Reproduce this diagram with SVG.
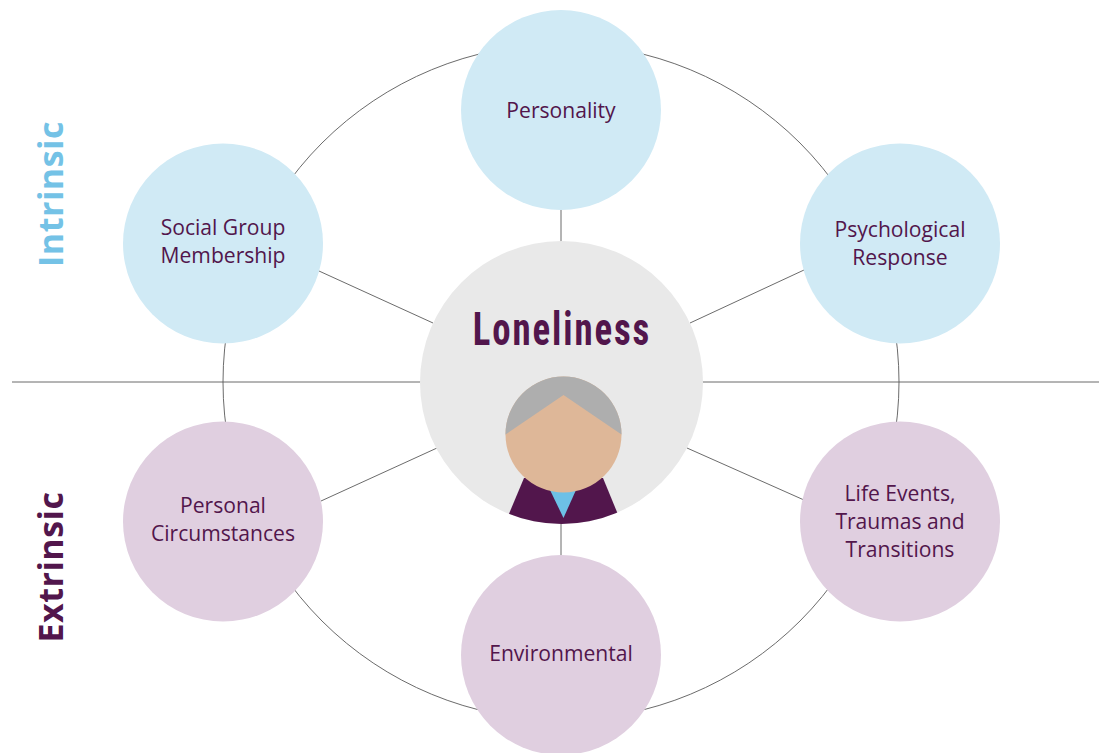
<svg xmlns="http://www.w3.org/2000/svg" width="1099" height="753" viewBox="0 0 1099 753">
<style>
.c{fill:none;stroke:#5a5a5a;stroke-width:.9}
.i{fill:#d0eaf5}.e{fill:#e0cfe0}
.t{font-family:"Open Sans","Noto Sans",sans-serif;font-size:21.1px;fill:#52164c;text-anchor:middle}
.s{font-family:"Open Sans","Noto Sans",sans-serif;font-size:34px;font-weight:700;letter-spacing:.5px;text-anchor:middle}
</style>
<defs><clipPath id="bc"><circle cx="561.500" cy="382.500" r="141.500"/></clipPath></defs>
<rect width="1099" height="753" fill="#fff"/>
<g id="connectors">
<circle class="c" cx="561" cy="382" r="338"/>
<path class="c" d="M12 382H1099M561 100V660M319 271L433 323M321 501L437 448M690 323L804 270M687 448L804 500"/>
</g>
<g id="center">
<circle cx="561.500" cy="382.500" r="141.500" fill="#e9e9e9"/>
<text transform="translate(562 345) scale(.8 1)" text-anchor="middle" style="font-family:'Roboto Condensed',Roboto,sans-serif;font-size:46px;font-weight:700;letter-spacing:2.400px" fill="#52164c">Loneliness</text>
<path d="M524 478L603 478L628.500 540H498Z" fill="#52164c" clip-path="url(#bc)"/>
<path d="M550 490H576L563.500 518Z" fill="#6dc0e6"/>
<circle cx="563.500" cy="434.500" r="58" fill="#deb798"/>
<path d="M505.500 434.500A58 58 0 0 1 621.500 434.500L563.500 395Z" fill="#aeaeae"/>
</g>
<g id="personality"><circle class="i" cx="561" cy="110" r="100"/><text class="t" x="561" y="118">Personality</text></g>
<g id="social"><circle class="i" cx="223" cy="243.500" r="100"/><text class="t" x="223" y="235">Social Group</text><text class="t" x="223" y="263">Membership</text></g>
<g id="psychological"><circle class="i" cx="900" cy="243.500" r="100"/><text class="t" x="900" y="237">Psychological</text><text class="t" x="900" y="265">Response</text></g>
<g id="personal"><circle class="e" cx="223" cy="521.500" r="100"/><text class="t" x="223" y="513">Personal</text><text class="t" x="223" y="541">Circumstances</text></g>
<g id="life"><circle class="e" cx="900" cy="521.500" r="100"/><text class="t" x="900" y="501">Life Events,</text><text class="t" x="900" y="529">Traumas and</text><text class="t" x="900" y="557">Transitions</text></g>
<g id="environmental"><circle class="e" cx="561" cy="655" r="100"/><text class="t" x="561" y="661">Environmental</text></g>
<g id="labels">
<text class="s" transform="translate(63 194) rotate(-90)" fill="#74c2e6">Intrinsic</text>
<text class="s" transform="translate(63 567) rotate(-90)" fill="#52164c">Extrinsic</text>
</g>
</svg>
